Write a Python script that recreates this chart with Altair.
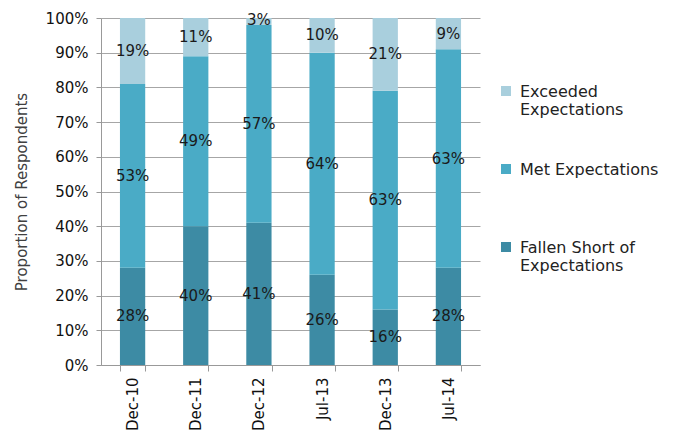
import altair as alt
import pandas as pd

periods = ["Dec-10", "Dec-11", "Dec-12", "Jul-13", "Dec-13", "Jul-14"]
fallen_short = [28, 40, 41, 26, 16, 28]
met = [53, 49, 57, 64, 63, 63]
exceeded = [19, 11, 3, 10, 21, 9]
y_ticks = [0, 10, 20, 30, 40, 50, 60, 70, 80, 90, 100]

series_names = ["Fallen Short of Expectations", "Met Expectations", "Exceeded Expectations"]
series_values = [fallen_short, met, exceeded]
legend_order = ["Exceeded Expectations", "Met Expectations", "Fallen Short of Expectations"]
colors = ["#a9cfdd", "#4aabc6", "#3d8ba4"]

rows = []
for si, (name, vals) in enumerate(zip(series_names, series_values)):
    for p, v in zip(periods, vals):
        rows.append({"period": p, "series": name, "order": si, "pct": v, "value": v / 100.0,
                     "label": f"{v}%"})
df = pd.DataFrame(rows)

FONT = "DejaVu Sans"

base = alt.Chart(df).transform_stack(
    stack="value", groupby=["period"], as_=["y0", "y1"],
    sort=[alt.SortField("order", order="ascending")]
).transform_calculate(mid="(datum.y0 + datum.y1) / 2")

xaxis = alt.Axis(labelAngle=-90, labelFontSize=15, labelColor="#111",
                 labelFont=FONT, tickBand="extent", tickSize=6,
                 tickColor="#999", domainColor="#999", labelPadding=6, grid=False)
xscale = alt.Scale(paddingInner=0.6, paddingOuter=0.3)

yaxis = alt.Axis(format="%", values=[t / 100 for t in y_ticks], labelFontSize=15,
                 labelOverlap=False,
                 labelColor="#111", labelFont=FONT, titleFont=FONT,
                 titleFontSize=15, titleFontWeight="normal", titleColor="#404040",
                 tickSize=5, tickColor="#999", domainColor="#999",
                 labelPadding=8,
                 grid=True, gridColor="#a6a6a6", titlePadding=16)
yscale = alt.Scale(domain=[0, 1])

bars = base.mark_bar(clip=True).encode(
    x=alt.X("period:N", sort=periods, title=None, scale=xscale, axis=xaxis),
    y=alt.Y("y0:Q", scale=yscale, title="Proportion of Respondents", axis=yaxis),
    y2="y1:Q",
    color=alt.Color("series:N", scale=alt.Scale(domain=legend_order, range=colors),
                    title=None,
                    legend=alt.Legend(orient="none", legendX=397, legendY=71,
                                      symbolType="M-1,-2.2H1V-0.2H-1Z", symbolSize=100,
                                      symbolStrokeWidth=0, labelFontSize=16,
                                      labelFont=FONT, labelColor="#222",
                                      labelLimit=300, rowPadding=44,
                                      gridAlign="all",
                                      labelBaseline="alphabetic", labelOffset=6,
                                      labelExpr="datum.label == 'Exceeded Expectations' ? ['Exceeded', 'Expectations'] : datum.label == 'Fallen Short of Expectations' ? ['Fallen Short of', 'Expectations'] : [datum.label, ' ']")),
)

labels = base.mark_text(fontSize=15, font=FONT, color="#1a1a1a").encode(
    x=alt.X("period:N", sort=periods, title=None, scale=xscale, axis=xaxis),
    y=alt.Y("mid:Q", scale=yscale, axis=None),
    text="label:N",
)

chart = alt.layer(bars, labels).resolve_axis(y="independent").properties(
    width=379, height=347,
    autosize=alt.AutoSizeParams(type="none"),
    padding={"left": 101, "top": 18, "right": 193, "bottom": 72},
).configure_view(stroke=None)

chart.save("out.html", embed_options={"renderer": "svg", "actions": False})
